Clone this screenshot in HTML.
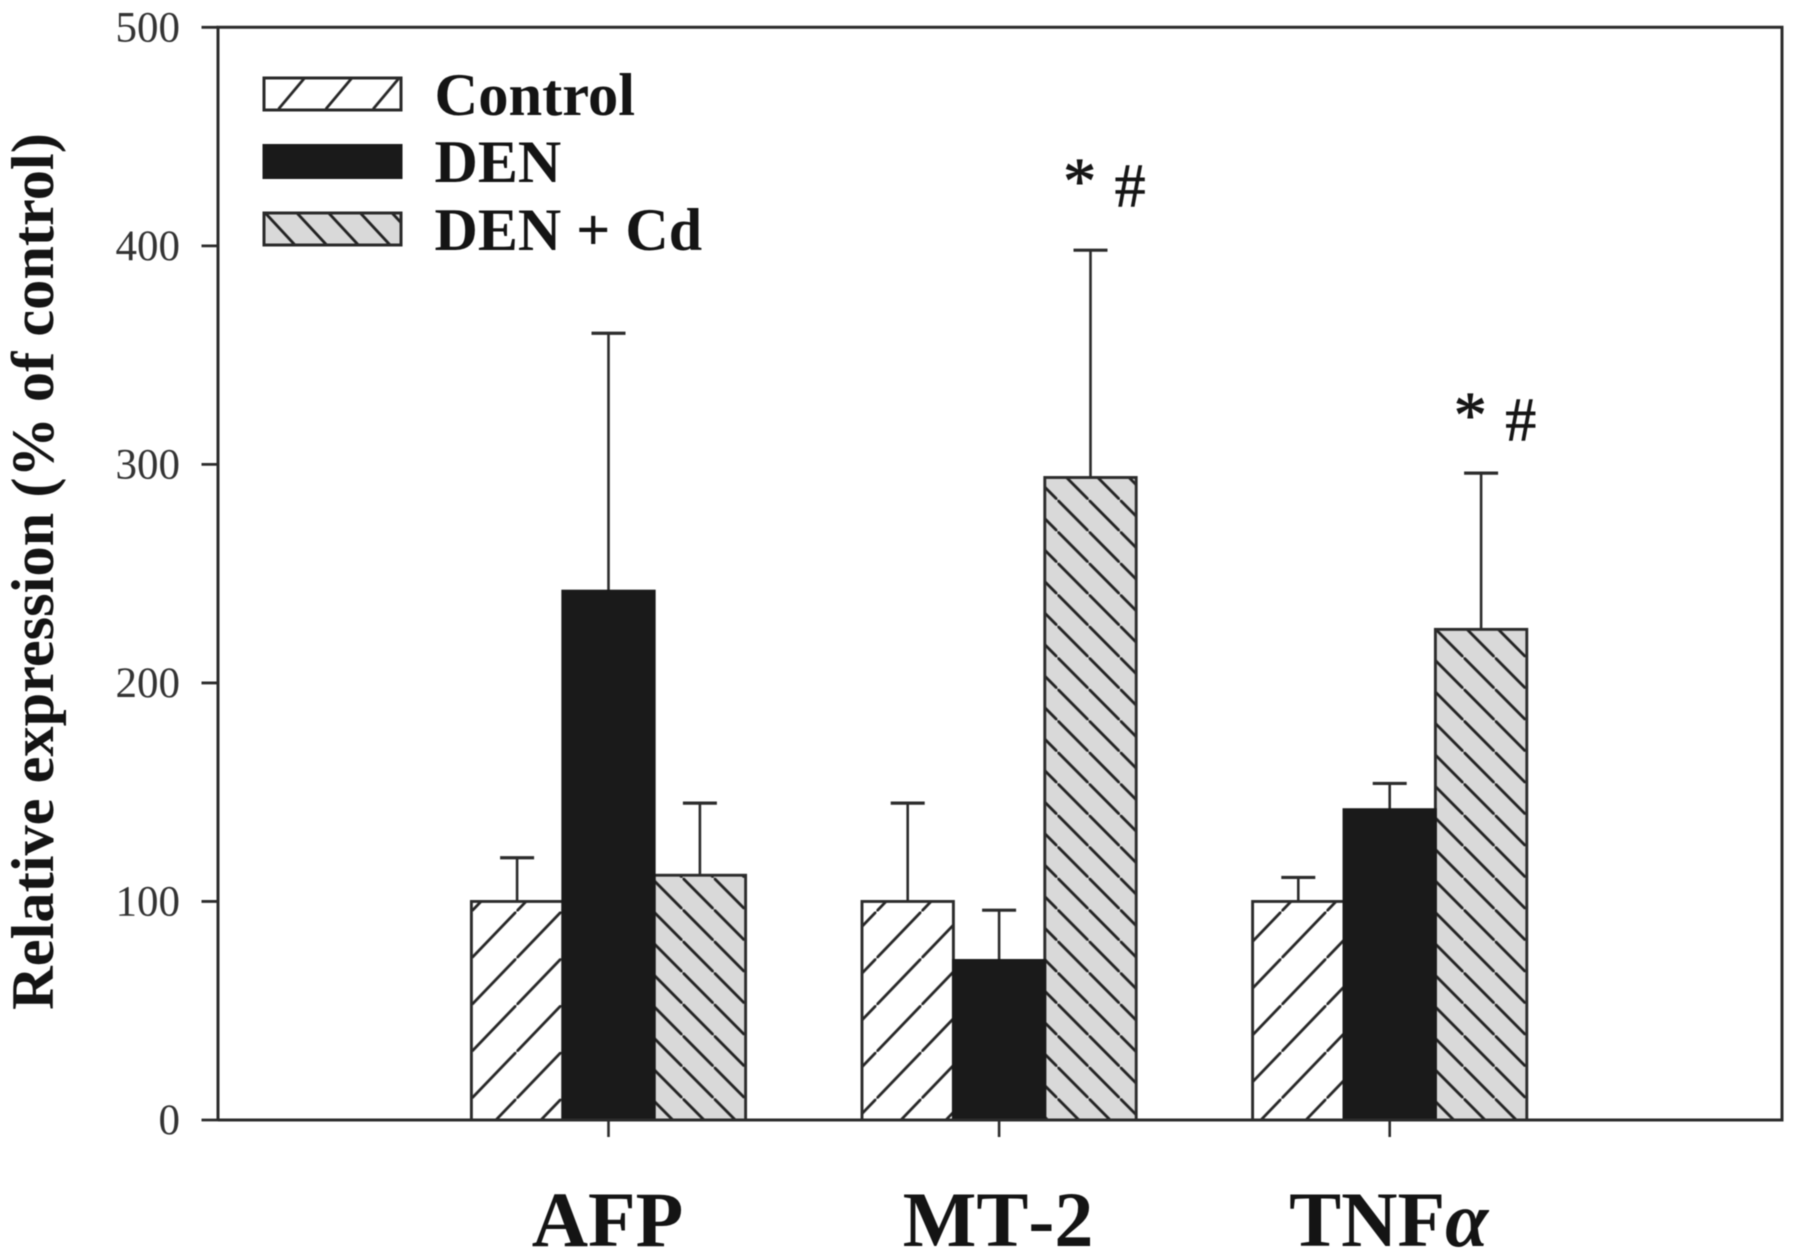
<!DOCTYPE html>
<html lang="en">
<head>
<meta charset="utf-8">
<title>Relative expression bar chart</title>
<style>
  html, body { margin: 0; padding: 0; background: #fff; }
  body { width: 1795px; height: 1259px; overflow: hidden; }
  svg { display: block; filter: blur(0.65px); }
  text { font-family: "Liberation Serif", "Noto Serif CJK SC", serif; }
  .bold { font-weight: bold; fill: #141414; }
  .tick-label { font-size: 43px; fill: #333; text-anchor: end; }
  .category { font-kerning: none; }
</style>
</head>
<body>
<svg id="chart" xmlns="http://www.w3.org/2000/svg" width="1795" height="1259" viewBox="0 0 1795 1259">
  <defs>
    <pattern id="hatch-control" patternUnits="userSpaceOnUse" x="21.4" y="22.3" width="45" height="46.8">
      <rect width="45" height="46.8" fill="#fff"/>
      <line x1="-4.5" y1="51.48" x2="49.5" y2="-4.68" stroke="#262626" stroke-width="2.8"/>
    </pattern>
    <pattern id="hatch-cd" patternUnits="userSpaceOnUse" x="26.48" y="27.3" width="31.24" height="31.5">
      <rect width="31.24" height="31.5" fill="#d9d9d9"/>
      <line x1="-3.124" y1="-3.15" x2="34.364" y2="34.65" stroke="#222" stroke-width="2.8"/>
    </pattern>
    <pattern id="legend-hatch-control" patternUnits="userSpaceOnUse" x="277.7" y="53.7" width="47.3" height="56.3">
      <rect width="47.3" height="56.3" fill="#fff"/>
      <line x1="-4.73" y1="61.93" x2="52.03" y2="-5.63" stroke="#262626" stroke-width="2.8"/>
    </pattern>
    <pattern id="legend-hatch-cd" patternUnits="userSpaceOnUse" x="265" y="212.7" width="31.7" height="34.2">
      <rect width="31.7" height="34.2" fill="#d9d9d9"/>
      <line x1="-3.17" y1="-3.42" x2="34.87" y2="37.62" stroke="#222" stroke-width="2.8"/>
    </pattern>
  </defs>

  <rect width="1795" height="1259" fill="#fff"/>
  <g id="bars"></g>
  <g id="axes"></g>

  <g>
    <rect x="264" y="78" width="137" height="32" fill="url(#legend-hatch-control)" stroke="#2a2a2a" stroke-width="3"/>
    <rect x="264" y="145.5" width="137" height="32" fill="#1a1a1a" stroke="#1a1a1a" stroke-width="3"/>
    <rect x="264" y="213" width="137" height="32" fill="url(#legend-hatch-cd)" stroke="#2a2a2a" stroke-width="3"/>
    <text class="bold" x="434.5" y="115" font-size="60.5">Control</text>
    <text class="bold" x="434.5" y="182" font-size="60">DEN</text>
    <text class="bold" x="434.5" y="250" font-size="60">DEN + Cd</text>
  </g>

  <text class="bold" font-size="60.4" text-anchor="middle" transform="translate(53 571.5) rotate(-90)">Relative expression (% of control)</text>
  <g id="annotations"></g>
</svg>

<script>
// Chart data
const categories = ['AFP', 'MT-2', 'TNFα'];
const seriesNames = ['control', 'den', 'den-cd'];
const controlValues = [100, 100, 100];
const controlErrors = [120, 145, 111];
const denValues = [242, 73, 142];
const denErrors = [360, 96, 154];
const denCdValues = [112, 294, 224.5];
const denCdErrors = [145, 398, 296];
const yTicks = [0, 100, 200, 300, 400, 500];
const annotationGroups = [1, 2];
const annotationValues = [418, 311];

const NS = 'http://www.w3.org/2000/svg';
const INK = '#2c2c2c';
const plotLeft = 218, plotRight = 1782, plotTop = 27.3, plotBottom = 1120;
const firstBarLeft = 471.4, groupStep = 390.6, barWidth = 91.4;

function yScale(v) { return plotBottom - (v / 500) * (plotBottom - plotTop); }
function groupLeft(g) { return firstBarLeft + g * groupStep; }
function barLeft(g, s) { return groupLeft(g) + s * barWidth; }
function groupCenter(g) { return groupLeft(g) + 1.5 * barWidth; }

function make(tag, attrs, parent) {
  const el = document.createElementNS(NS, tag);
  for (const k in attrs) el.setAttribute(k, attrs[k]);
  parent.appendChild(el);
  return el;
}

const barsLayer = document.getElementById('bars');
const axesLayer = document.getElementById('axes');
const annotationsLayer = document.getElementById('annotations');

const seriesValues = [controlValues, denValues, denCdValues];
const seriesErrors = [controlErrors, denErrors, denCdErrors];
const seriesFill = ['url(#hatch-control)', '#1a1a1a', 'url(#hatch-cd)'];
const seriesStroke = [INK, '#1a1a1a', INK];
const drawOrder = [0, 2, 1];

// Error bars and bars
categories.forEach(function (cat, g) {
  drawOrder.forEach(function (s) {
    const cx = barLeft(g, s) + barWidth / 2;
    const top = yScale(seriesValues[s][g]);
    const errTop = yScale(seriesErrors[s][g]);

    const stem = make('line', { x1: cx, x2: cx, y1: top, y2: errTop, stroke: INK, 'stroke-width': 2.6 }, barsLayer);
    
    

    const cap = make('line', { x1: cx - 17, x2: cx + 17, y1: errTop, y2: errTop, stroke: INK, 'stroke-width': 3.2 }, barsLayer);
    
    

    const bar = make('rect', {
      x: barLeft(g, s), y: top, width: barWidth, height: plotBottom - top,
      fill: seriesFill[s], stroke: seriesStroke[s], 'stroke-width': 2.9
    }, barsLayer);
    
    
  });
});

// Frame
const frame = make('path', {
  d: 'M' + plotLeft + ' ' + plotBottom + 'V' + plotTop + 'H' + plotRight + 'V' + plotBottom + 'H' + plotLeft,
  fill: 'none', stroke: INK, 'stroke-width': 3
}, axesLayer);



// Y ticks and labels
yTicks.forEach(function (t) {
  const y = yScale(t);
  const tick = make('line', { x1: 201.5, x2: plotLeft, y1: y, y2: y, stroke: INK, 'stroke-width': 2.8 }, axesLayer);
  
  

  const label = make('text', { x: 180, y: y + 14, class: 'tick-label' }, axesLayer);
  label.textContent = String(t);
  
  
});

// X ticks and category labels
categories.forEach(function (cat, g) {
  const cx = groupCenter(g);
  const tick = make('line', { x1: cx, x2: cx, y1: plotBottom, y2: 1137, stroke: INK, 'stroke-width': 2.6 }, axesLayer);
  
  

  const label = make('text', { x: cx - 1, y: 1246, class: 'bold category', 'font-size': 78, 'text-anchor': 'middle' }, axesLayer);
  
  
  cat.split(/(α)/).forEach(function (part) {
    if (!part) return;
    const span = make('tspan', part === 'α' ? { 'font-style': 'italic' } : {}, label);
    span.textContent = part;
  });
});

// Significance markers
annotationGroups.forEach(function (g, i) {
  const base = yScale(annotationValues[i]);
  const cx = groupCenter(g);

  const star = make('text', { x: cx + 80.5, y: base - 3.5, 'font-size': 66, 'text-anchor': 'middle', fill: '#161616', stroke: '#161616', 'stroke-width': 0.9 }, annotationsLayer);
  star.textContent = '*';
  
  

  const hash = make('text', { x: cx + 131, y: base, 'font-size': 62, 'text-anchor': 'middle', fill: '#161616', stroke: '#161616', 'stroke-width': 0.6 }, annotationsLayer);
  hash.textContent = '#';
  
  
});
</script>
</body>
</html>
